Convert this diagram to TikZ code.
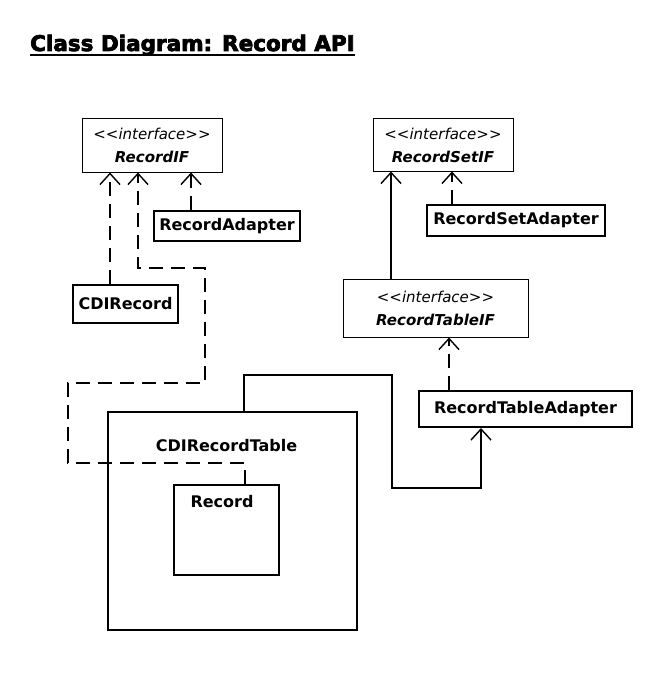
\documentclass[tikz,border=0pt]{standalone}
\usepackage{fontspec}
\setmainfont{DejaVu Sans}
\newfontfamily\titlefont[FakeBold=3.5]{DejaVu Sans Bold}
\usetikzlibrary{arrows.meta}

\begin{document}
\begin{tikzpicture}[x=1pt, y=-1pt,
        box/.style={draw, line width=2pt, inner sep=0pt, font=\fontsize{16}{19}\selectfont\bfseries},
        iface/.style={draw, line width=1pt, inner sep=0pt, align=center, font=\fontsize{15}{23}\selectfont\itshape},
        lbl/.style={inner sep=0pt, font=\fontsize{16}{19}\selectfont\bfseries},
        dep/.style={line width=2pt, dash pattern=on 14pt off 8pt, -{Straight Barb[length=11pt, width=20pt, line width=1.4pt]}},
        assoc/.style={line width=2pt, -{Straight Barb[length=11pt, width=20pt, line width=1.4pt]}}]
                \useasboundingbox (0,0) rectangle (656,679);
                % title
                \node[anchor=base west, inner sep=0pt, font=\titlefont\fontsize{21.5}{24}\selectfont] (title) at (30,51) {Class Diagram: Record API};
                \draw[line width=2pt] ([yshift=-4pt]title.base west) -- ([yshift=-4pt]title.base east);
                % interfaces
                \node[iface, minimum width=140pt, minimum height=53pt] (recif) at (152,145.5) {<{}<interface>{}>\\{\bfseries RecordIF}};
                \node[iface, minimum width=140pt, minimum height=52pt] (recsetif) at (443,145) {<{}<interface>{}>\\{\bfseries RecordSetIF}};
                \node[iface, minimum width=185pt, minimum height=58pt] (rtif) at (435.5,308) {<{}<interface>{}>\\{\bfseries RecordTableIF}};
                % classes
                \node[box, minimum width=105pt, minimum height=38pt] (cdirec) at (125.5,304) {CDIRecord};
                \node[box, minimum width=146pt, minimum height=30pt] (recad) at (227,226) {RecordAdapter};
                \node[box, minimum width=178pt, minimum height=31pt] (recsetad) at (516,220.5) {RecordSetAdapter};
                \node[box, minimum width=213pt, minimum height=36pt] (rtad) at (525.5,409) {RecordTableAdapter};
                \node[box, minimum width=249pt, minimum height=218pt] (tbl) at (232.5,521) {};
                \node[box, minimum width=105pt, minimum height=90pt] (rec) at (226.5,530) {};
                \node[lbl] (tbltext) at ([xshift=-6pt, yshift=-35pt]tbl.north) {CDIRecordTable};
                \node[lbl] (rectext) at ([xshift=-4.5pt, yshift=-18pt]rec.north) {Record};
                % connectors
                \draw[dep] ([xshift=-15.5pt]cdirec.north) -- ([xshift=-42pt]recif.south);
                \draw[dep] ([xshift=-36pt]recad.north) -- ([xshift=39pt]recif.south);
                \draw[dep] ([xshift=18.5pt]rec.north) |- (68,463) |- (205,383) |- (138,268) -- ([xshift=-14pt]recif.south);
                \draw[dep] ([xshift=-64pt]recsetad.north) -- ([xshift=9pt]recsetif.south);
                \draw[assoc] ([xshift=-44.5pt]rtif.north) -- ([xshift=-52pt]recsetif.south);
                \draw[dep] ([xshift=-76.5pt]rtad.north) -- ([xshift=13.5pt]rtif.south);
                \draw[assoc] ([xshift=11.5pt]tbl.north) |- (392,375) -- (392,488) -| ([xshift=-44.5pt]rtad.south);
\end{tikzpicture}
\end{document}
